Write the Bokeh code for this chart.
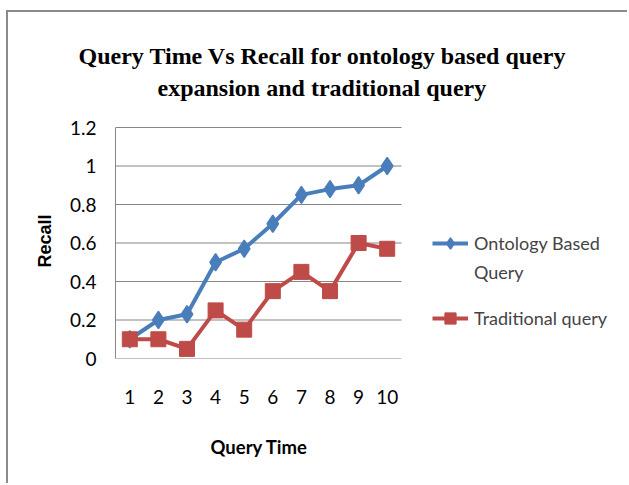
from bokeh.plotting import figure
from bokeh.models import Range1d, FixedTicker, Legend, LegendItem, Title
from bokeh.embed import file_html
from bokeh.resources import INLINE

# ---- data ----
query_time = [1, 2, 3, 4, 5, 6, 7, 8, 9, 10]
ontology_recall = [0.1, 0.2, 0.23, 0.5, 0.57, 0.7, 0.85, 0.88, 0.9, 1.0]
traditional_recall = [0.1, 0.1, 0.05, 0.25, 0.15, 0.35, 0.45, 0.35, 0.6, 0.57]
y_ticks = [0, 0.2, 0.4, 0.6, 0.8, 1.0, 1.2]
y_tick_labels = ["0", "0.2", "0.4", "0.6", "0.8", "1", "1.2"]
title_lines = ["Query Time Vs Recall for ontology based query",
               "expansion and traditional query"]
series_names = ["Ontology Based", "Query", "Traditional query"]
x_title = "Query Time"
y_title = "Recall"

BLUE = "#4a7ebb"
RED = "#be4b48"
GRID = "#868686"
SANS = "Lato"

# layout (pixels): plot area of the chart is 286 px wide for the 10 categories;
# the bokeh frame is extended to the right so the legend can live inside it.
CHART_W = 286.0
FRAME_W = 510.0
x_lo = query_time[0] - 0.5
x_hi = query_time[-1] + 0.5
x_end = x_lo + (x_hi - x_lo) * FRAME_W / CHART_W
y_top = y_ticks[-1]
y_end = y_top * (1 + 4.0 / 231.0)

# canvas sits at page (8, 12) behind a 2px grey top/left border at (6, 10)
p = figure(width=621, height=473, output_backend="svg", toolbar_location=None,
           x_range=Range1d(x_lo, x_end), y_range=Range1d(0, y_end), title=None)
p.styles = {"margin-left": "6px", "margin-top": "10px",
            "border-top": "2px solid #8a8a8a", "border-left": "2px solid #8a8a8a"}
p.min_border_left = 107
p.min_border_right = 621 - 107 - int(FRAME_W)
p.min_border_top = 111
p.min_border_bottom = 127
p.outline_line_color = None
p.background_fill_color = "white"
p.border_fill_color = "white"

# axes
p.xaxis.ticker = FixedTicker(ticks=query_time)
p.xaxis.bounds = (x_lo, x_hi)
p.yaxis.ticker = FixedTicker(ticks=y_ticks)
p.yaxis.bounds = (0, y_top)
p.yaxis.major_label_overrides = {t: l for t, l in zip(y_ticks, y_tick_labels)}
for ax in (p.xaxis, p.yaxis):
    ax.major_tick_line_color = None
    ax.minor_tick_line_color = None
    ax.major_label_text_font = SANS
    ax.major_label_text_font_size = "19px"
    ax.major_label_text_color = "black"
p.xaxis.axis_line_color = None
p.yaxis.axis_line_color = GRID
p.yaxis.major_label_standoff = 13
p.xaxis.major_label_standoff = 25

p.yaxis.axis_label = y_title
p.yaxis.axis_label_text_font = "Liberation Sans"
p.yaxis.axis_label_text_font_style = "bold"
p.yaxis.axis_label_text_font_size = "18px"
p.yaxis.axis_label_text_color = "black"
p.yaxis.axis_label_standoff = 12

# x title centred under the chart's own plot area (not the extended frame)
p.add_layout(Title(text=x_title, align="left", offset=95, standoff=54,
                   text_font=SANS, text_font_style="bold",
                   text_font_size="18.5px", text_color="black"), "below")

# horizontal gridlines only across the chart's own plot area
p.xgrid.grid_line_color = None
p.ygrid.grid_line_color = None
p.segment(x0=[x_lo] * len(y_ticks), y0=y_ticks, x1=[x_hi] * len(y_ticks), y1=y_ticks,
          line_color=GRID, line_width=1)

# series
l1 = p.line(query_time, ontology_recall, line_color=BLUE, line_width=4)
m1 = p.scatter(query_time, ontology_recall, marker="diamond", size=17,
               fill_color=BLUE, line_color=BLUE, line_width=1.5)
l2 = p.line(query_time, traditional_recall, line_color=RED, line_width=4)
m2 = p.scatter(query_time, traditional_recall, marker="square", size=15,
               fill_color=RED, line_color=RED)
blank = p.line([], [], line_alpha=0)   # carries the wrapped second legend line


def make_legend(items, loc):
    lg = Legend(items=items, location=loc)
    lg.border_line_color = None
    lg.background_fill_alpha = 0
    lg.padding = 0
    lg.margin = 0
    lg.glyph_width = 36
    lg.glyph_height = 28
    lg.label_standoff = 6
    lg.spacing = 1
    lg.label_text_font = SANS
    lg.label_text_font_size = "18px"
    return lg


p.add_layout(make_legend([LegendItem(label=series_names[0], renderers=[l1, m1]),
                          LegendItem(label=series_names[1], renderers=[blank])],
                         (317, 72)))
p.add_layout(make_legend([LegendItem(label=series_names[2], renderers=[l2, m2])],
                         (317, 26)))

# title lines: nearest the plot first (later additions stack above)
p.add_layout(Title(text=" ", text_font_size="13px", standoff=4), "above")
for txt, off in [(title_lines[1], 42), (title_lines[0], -37)]:
    p.add_layout(Title(text=txt, align="left", offset=off, standoff=4,
                       text_font="Liberation Serif", text_font_style="bold",
                       text_font_size="24px", text_color="black"), "above")

open("out.html", "w").write(file_html(p, INLINE))
